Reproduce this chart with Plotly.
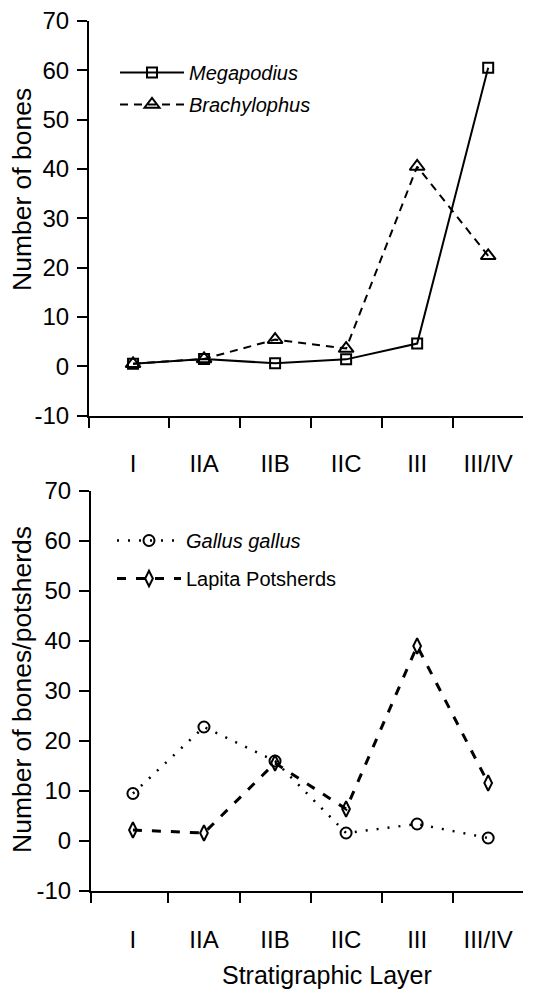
import plotly.graph_objects as go

# ---- data ----
layers = ["I", "IIA", "IIB", "IIC", "III", "III/IV"]
megapodius = [0.5, 1.5, 0.6, 1.4, 4.6, 60.5]
brachylophus = [0.5, 1.5, 5.4, 3.6, 40.5, 22.4]
gallus = [9.5, 22.8, 16.0, 1.6, 3.4, 0.6]
lapita = [2.2, 1.6, 15.6, 6.4, 39.0, 11.6]
y_ticks = [-10, 0, 10, 20, 30, 40, 50, 60, 70]

W, H = 535, 990
OFF = 8  # page body margin of the generated html
FONT = "Liberation Sans, Arial, Helvetica, sans-serif"
idx = list(range(len(layers)))
bounds = [i + 0.5 for i in idx]
y_ticktext = [str(v) for v in y_ticks]


def px(x):
    return (x - OFF) / W


def py(y):
    return 1 - (y - OFF) / H


fig = go.Figure()

fig.add_trace(go.Scatter(
    x=idx, y=megapodius, name="<i>Megapodius</i>", mode="lines+markers",
    line=dict(color="black", width=2, dash="solid"),
    marker=dict(symbol="square-open", size=10, color="black", line=dict(width=2)),
    xaxis="x", yaxis="y", legend="legend", legendgroup="m"))
fig.add_trace(go.Scatter(
    x=idx, y=brachylophus, name="<i>Brachylophus</i>", mode="lines+markers",
    line=dict(color="black", width=2, dash="8px,6px"),
    marker=dict(symbol="triangle-up-open", size=13, color="black", line=dict(width=2)),
    xaxis="x", yaxis="y", legend="legend", legendgroup="b"))
fig.add_trace(go.Scatter(
    x=idx, y=gallus, name="<i>Gallus gallus</i>", mode="lines+markers",
    line=dict(color="black", width=2.5, dash="2px,9px"),
    marker=dict(symbol="circle-open", size=11, color="black", line=dict(width=2)),
    xaxis="x2", yaxis="y2", legend="legend2", legendgroup="g"))
fig.add_trace(go.Scatter(
    x=idx, y=lapita, name="Lapita Potsherds", mode="lines+markers",
    line=dict(color="black", width=3, dash="9px,10px"),
    marker=dict(symbol="diamond-tall-open", size=11, color="black", line=dict(width=2)),
    xaxis="x2", yaxis="y2", legend="legend2", legendgroup="l"))

tickfont = dict(family=FONT, size=24, color="black")


def xaxis_cfg(left, rng):
    return dict(
        domain=[px(left), px(523)], range=rng, automargin=False,
        tickmode="array", tickvals=idx, ticktext=layers,
        ticks="outside", ticklen=26, tickcolor="rgba(0,0,0,0)",
        showline=True, linecolor="black", linewidth=2,
        showgrid=False, zeroline=False, tickfont=tickfont,
        ticklabeloverflow="allow",
        minor=dict(tickmode="array", tickvals=[rng[0] + 0.005] + bounds,
                   ticks="outside", ticklen=10, tickwidth=2, tickcolor="black",
                   showgrid=False),
    )


def yaxis_cfg(top, bottom):
    return dict(
        domain=[py(bottom), py(top)], range=[-10, 70], automargin=False,
        tickmode="array", tickvals=y_ticks, ticktext=y_ticktext,
        ticks="outside", ticklen=10, tickwidth=2, tickcolor="black",
        showline=True, linecolor="black", linewidth=2,
        showgrid=False, zeroline=False, tickfont=tickfont,
        ticklabelstandoff=3, ticklabeloverflow="allow",
    )


xa1 = xaxis_cfg(89, [-0.62, 5.49]); xa1["anchor"] = "y"
xa2 = xaxis_cfg(91, [-0.59, 5.49]); xa2["anchor"] = "y2"
ya1 = yaxis_cfg(21, 415.6); ya1["anchor"] = "x"
ya2 = yaxis_cfg(491, 891); ya2["anchor"] = "x2"

legfont = dict(family=FONT, size=20, color="black")
fig.update_layout(
    template="none",
    width=W, height=H,
    margin=dict(l=0, r=0, t=0, b=0, pad=0),
    paper_bgcolor="white", plot_bgcolor="white",
    font=dict(family=FONT, color="black"),
    xaxis=xa1, yaxis=ya1, xaxis2=xa2, yaxis2=ya2,
    legend=dict(x=px(115), y=py(53), xanchor="left", yanchor="top",
                font=legfont, itemwidth=64, tracegroupgap=3,
                bgcolor="rgba(0,0,0,0)", traceorder="grouped"),
    legend2=dict(x=px(112), y=py(521), xanchor="left", yanchor="top",
                 font=legfont, itemwidth=64, tracegroupgap=9,
                 bgcolor="rgba(0,0,0,0)", traceorder="grouped"),
    annotations=[
        dict(text="Number of bones", x=px(22), y=py(190), xref="paper", yref="paper",
             textangle=-90, showarrow=False, font=dict(family=FONT, size=26.5),
             xanchor="center", yanchor="middle"),
        dict(text="Number of bones/potsherds", x=px(22), y=py(690), xref="paper", yref="paper",
             textangle=-90, showarrow=False, font=dict(family=FONT, size=26.5),
             xanchor="center", yanchor="middle"),
        dict(text="Stratigraphic Layer", x=px(327), y=py(975), xref="paper", yref="paper",
             showarrow=False, font=dict(family=FONT, size=25),
             xanchor="center", yanchor="middle"),
    ],
)

fig.write_html("out.html")
